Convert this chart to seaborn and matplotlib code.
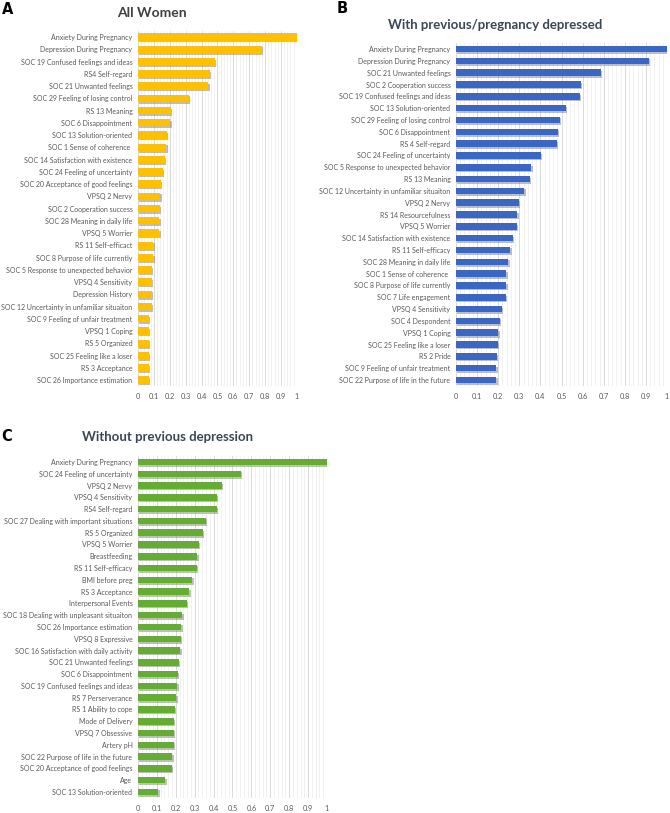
import numpy as np
import pandas as pd
import matplotlib
matplotlib.use('Agg')
import matplotlib.pyplot as plt
import matplotlib.patheffects as pe
import seaborn as sns

# Panel A - all women
labels_a = ['Anxiety During Pregnancy', 'Depression During Pregnancy', 'SOC 19 Confused feelings and ideas',
            'RS4 Self-regard', 'SOC 21 Unwanted feelings', 'SOC 29 Feeling of losing control', 'RS 13 Meaning',
            'SOC 6 Disappointment', 'SOC 13 Solution-oriented', 'SOC 1 Sense of coherence ',
            'SOC 14 Satisfaction with existence', 'SOC 24 Feeling of uncertainty',
            'SOC 20 Acceptance of good feelings', 'VPSQ 2 Nervy', 'SOC 2 Cooperation success',
            'SOC 28 Meaning in daily life', 'VPSQ 5 Worrier', 'RS 11 Self-efficact',
            'SOC 8 Purpose of life currently', 'SOC 5 Response to unexpected behavior', 'VPSQ 4 Sensitivity',
            'Depression History', 'SOC 12 Uncertainty in unfamiliar situaiton', 'SOC 9 Feeling of unfair treatment',
            'VPSQ 1 Coping', 'RS 5 Organized', 'SOC 25 Feeling like a loser', 'RS 3 Acceptance',
            'SOC 26 Importance estimation']
values_a = [1.0, 0.779, 0.484, 0.453, 0.442, 0.32, 0.206, 0.204, 0.181, 0.179, 0.168, 0.158, 0.143,
            0.141, 0.137, 0.135, 0.135, 0.097, 0.097, 0.088, 0.088, 0.088, 0.088, 0.069, 0.069, 0.069,
            0.069, 0.067, 0.067]

# Panel B - with previous/pregnancy depression
labels_b = ['Anxiety During Pregnancy', 'Depression During Pregnancy', 'SOC 21 Unwanted feelings',
            'SOC 2 Cooperation success', 'SOC 19 Confused feelings and ideas', 'SOC 13 Solution-oriented',
            'SOC 29 Feeling of losing control', 'SOC 6 Disappointment', 'RS 4 Self-regard',
            'SOC 24 Feeling of uncertainty', 'SOC 5 Response to unexpected behavior', 'RS 13 Meaning',
            'SOC 12 Uncertainty in unfamiliar situaiton', 'VPSQ 2 Nervy', 'RS 14 Resourcefulness',
            'VPSQ 5 Worrier', 'SOC 14 Satisfaction with existence', 'RS 11 Self-efficacy',
            'SOC 28 Meaning in daily life', 'SOC 1 Sense of coherence ', 'SOC 8 Purpose of life currently',
            'SOC 7 Life engagement', 'VPSQ 4 Sensitivity', 'SOC 4 Despondent', 'VPSQ 1 Coping',
            'SOC 25 Feeling like a loser', 'RS 2 Pride', 'SOC 9 Feeling of unfair treatment',
            'SOC 22 Purpose of life in the future']
values_b = [1.0, 0.913, 0.687, 0.592, 0.587, 0.521, 0.491, 0.483, 0.477, 0.402, 0.356, 0.351, 0.323,
            0.299, 0.29, 0.287, 0.269, 0.258, 0.247, 0.239, 0.238, 0.235, 0.216, 0.208, 0.2, 0.198,
            0.194, 0.191, 0.191]

# Panel C - without previous depression
labels_c = ['Anxiety During Pregnancy', 'SOC 24 Feeling of uncertainty', 'VPSQ 2 Nervy', 'VPSQ 4 Sensitivity',
            'RS4 Self-regard', 'SOC 27 Dealing with important situations', 'RS 5 Organized', 'VPSQ 5 Worrier',
            'Breastfeeding', 'RS 11 Self-efficacy', 'BMI before preg', 'RS 3 Acceptance', 'Interpersonal Events',
            'SOC 18 Dealing with unpleasant situaiton', 'SOC 26 Importance estimation', 'VPSQ 8 Expressive',
            'SOC 16 Satisfaction with daily activity', 'SOC 21 Unwanted feelings', 'SOC 6 Disappointment',
            'SOC 19 Confused feelings and ideas', 'RS 7 Perserverance', 'RS 1 Ability to cope',
            'Mode of Delivery', 'VPSQ 7 Obsessive', 'Artery pH', 'SOC 22 Purpose of life in the future',
            'SOC 20 Acceptance of good feelings', 'Age', 'SOC 13 Solution-oriented']
values_c = [1.0, 0.545, 0.444, 0.418, 0.416, 0.358, 0.344, 0.323, 0.314, 0.31, 0.287, 0.272, 0.257,
            0.235, 0.229, 0.226, 0.224, 0.217, 0.212, 0.208, 0.203, 0.194, 0.19, 0.189, 0.189, 0.182,
            0.18, 0.145, 0.108]

x_ticks = [0, 0.1, 0.2, 0.3, 0.4, 0.5, 0.6, 0.7, 0.8, 0.9, 1.0]
x_tick_labels = ['0', '0.1', '0.2', '0.3', '0.4', '0.5', '0.6', '0.7', '0.8', '0.9', '1']

sns.set_style('white')
plt.rcParams['font.family'] = ['Lato', 'DejaVu Sans']

fig = plt.figure(figsize=(6.7, 8.13), dpi=100)

panels = [
    (labels_a, values_a, '#FFC000', [0.206, 0.525, 0.237, 0.437], 0.6),
    (labels_b, values_b, '#3A66C4', [0.6806, 0.5253, 0.315, 0.4216], 0.55),
    (labels_c, values_c, '#64AD32', [0.206, 0.0186, 0.282, 0.4204], 0.55),
]

for labels, values, color, rect, bar_h in panels:
    ax = fig.add_axes(rect)
    df = pd.DataFrame({'label': labels, 'value': values})
    sns.barplot(data=df, x='value', y='label', orient='h', color=color, width=bar_h,
                saturation=1, linewidth=0, ax=ax, zorder=3)
    for p in ax.patches:
        p.set_path_effects([pe.SimplePatchShadow(offset=(1.0, -1.2), shadow_rgbFace='#808080', alpha=0.5),
                            pe.Normal()])
    ax.set_xlim(0, 1.0)
    ax.set_ylim(len(labels) - 0.5, -0.5)
    ax.set_xticks(x_ticks)
    ax.set_xticklabels(x_tick_labels)
    ax.set_xticks(np.arange(0, 1.001, 0.02), minor=True)
    ax.grid(axis='x', which='major', color='#d9d9d9', linewidth=0.7, zorder=0)
    ax.grid(axis='x', which='minor', color='#ececec', linewidth=0.5, zorder=0)
    ax.grid(axis='y', visible=False)
    for s in ax.spines.values():
        s.set_visible(False)
    ax.tick_params(axis='y', length=0, pad=4, labelsize=5.0, labelcolor='#595959')
    ax.tick_params(axis='x', which='both', length=0, pad=5, labelsize=5.3, labelcolor='#595959')
    ax.set_xlabel('')
    ax.set_ylabel('')

fig.text(0.226, 0.984, 'All Women', ha='center', va='center', fontsize=10, fontweight='bold', color='#404040')
fig.text(0.739, 0.969, 'With previous/pregnancy depressed', ha='center', va='center', fontsize=9.5,
         fontweight='bold', color='#3B4656')
fig.text(0.25, 0.4625, 'Without previous depression', ha='center', va='center', fontsize=9.5,
         fontweight='bold', color='#3B4656')

for letter, x, y in [('A', 0.003, 0.988), ('B', 0.502, 0.989), ('C', 0.002, 0.4625)]:
    fig.text(x, y, letter, ha='left', va='center', fontsize=10.5, fontweight='bold', color='black',
             family='DejaVu Sans')

fig.savefig('out.png', dpi=100)
plt.close(fig)
